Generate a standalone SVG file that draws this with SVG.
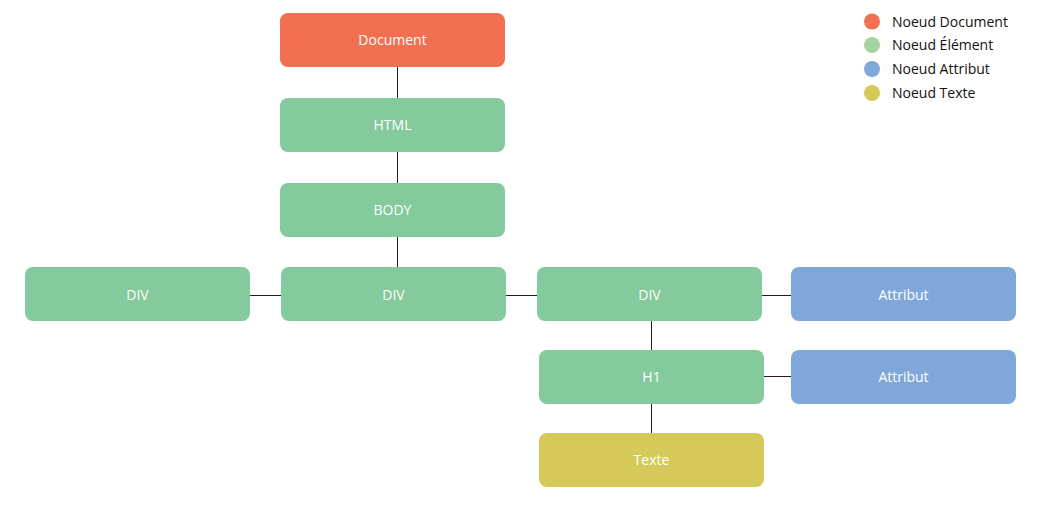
<svg xmlns="http://www.w3.org/2000/svg" width="1049" height="510" viewBox="0 0 1049 510">
<style>
.n{stroke:none}
.doc{fill:#f36f51}
.el{fill:#84ca9c}
.at{fill:#7fa7d9}
.tx{fill:#d5ca59}
.lbl{font-family:"Open Sans","Liberation Sans",sans-serif;font-size:14px;fill:#ffffff;text-anchor:middle;dominant-baseline:central}
.leg{font-family:"Open Sans","Liberation Sans",sans-serif;font-size:14px;fill:#111111;dominant-baseline:central}
.c{stroke:#2b1d16;stroke-width:1;fill:none}
</style>
<rect width="1049" height="510" fill="#ffffff"/>
<g id="connectors">
<line class="c" x1="397.5" y1="67" x2="397.5" y2="98"/>
<line class="c" x1="397.5" y1="152" x2="397.5" y2="183"/>
<line class="c" x1="397.5" y1="237" x2="397.5" y2="267"/>
<line class="c" x1="250" y1="295.5" x2="281" y2="295.5"/>
<line class="c" x1="506" y1="295.5" x2="537" y2="295.5"/>
<line class="c" x1="762" y1="295.5" x2="791" y2="295.5"/>
<line class="c" x1="651.5" y1="321" x2="651.5" y2="350"/>
<line class="c" x1="764" y1="376.5" x2="791" y2="376.5"/>
<line class="c" x1="651.5" y1="404" x2="651.5" y2="433"/>
</g>
<g id="node-document"><rect class="n doc" x="280" y="13" width="225" height="54" rx="8"/><text class="lbl" x="392.5" y="39">Document</text></g>
<g id="node-html"><rect class="n el" x="280" y="98" width="225" height="54" rx="8"/><text class="lbl" x="392.5" y="124">HTML</text></g>
<g id="node-body"><rect class="n el" x="280" y="183" width="225" height="54" rx="8"/><text class="lbl" x="392.5" y="209">BODY</text></g>
<g id="node-div-left"><rect class="n el" x="25" y="267" width="225" height="54" rx="8"/><text class="lbl" x="137.5" y="294">DIV</text></g>
<g id="node-div-mid"><rect class="n el" x="281" y="267" width="225" height="54" rx="8"/><text class="lbl" x="393.5" y="294">DIV</text></g>
<g id="node-div-right"><rect class="n el" x="537" y="267" width="225" height="54" rx="8"/><text class="lbl" x="649.5" y="294">DIV</text></g>
<g id="node-attr1"><rect class="n at" x="791" y="267" width="225" height="54" rx="8"/><text class="lbl" x="903.5" y="294">Attribut</text></g>
<g id="node-h1"><rect class="n el" x="539" y="350" width="225" height="54" rx="8"/><text class="lbl" x="651.5" y="376">H1</text></g>
<g id="node-attr2"><rect class="n at" x="791" y="350" width="225" height="54" rx="8"/><text class="lbl" x="903.5" y="376">Attribut</text></g>
<g id="node-texte"><rect class="n tx" x="539" y="433" width="225" height="54" rx="8"/><text class="lbl" x="651.5" y="459">Texte</text></g>
<g id="legend">
<circle cx="872" cy="21.5" r="8" fill="#f36f51"/><text class="leg" x="892" y="21">Noeud Document</text>
<circle cx="872" cy="45" r="8" fill="#a3d49f"/><text class="leg" x="892" y="44.5">Noeud Élément</text>
<circle cx="872" cy="69" r="8" fill="#7fa7d9"/><text class="leg" x="892" y="68.5">Noeud Attribut</text>
<circle cx="872" cy="93" r="8" fill="#d5ca59"/><text class="leg" x="892" y="92.5">Noeud Texte</text>
</g>
</svg>
